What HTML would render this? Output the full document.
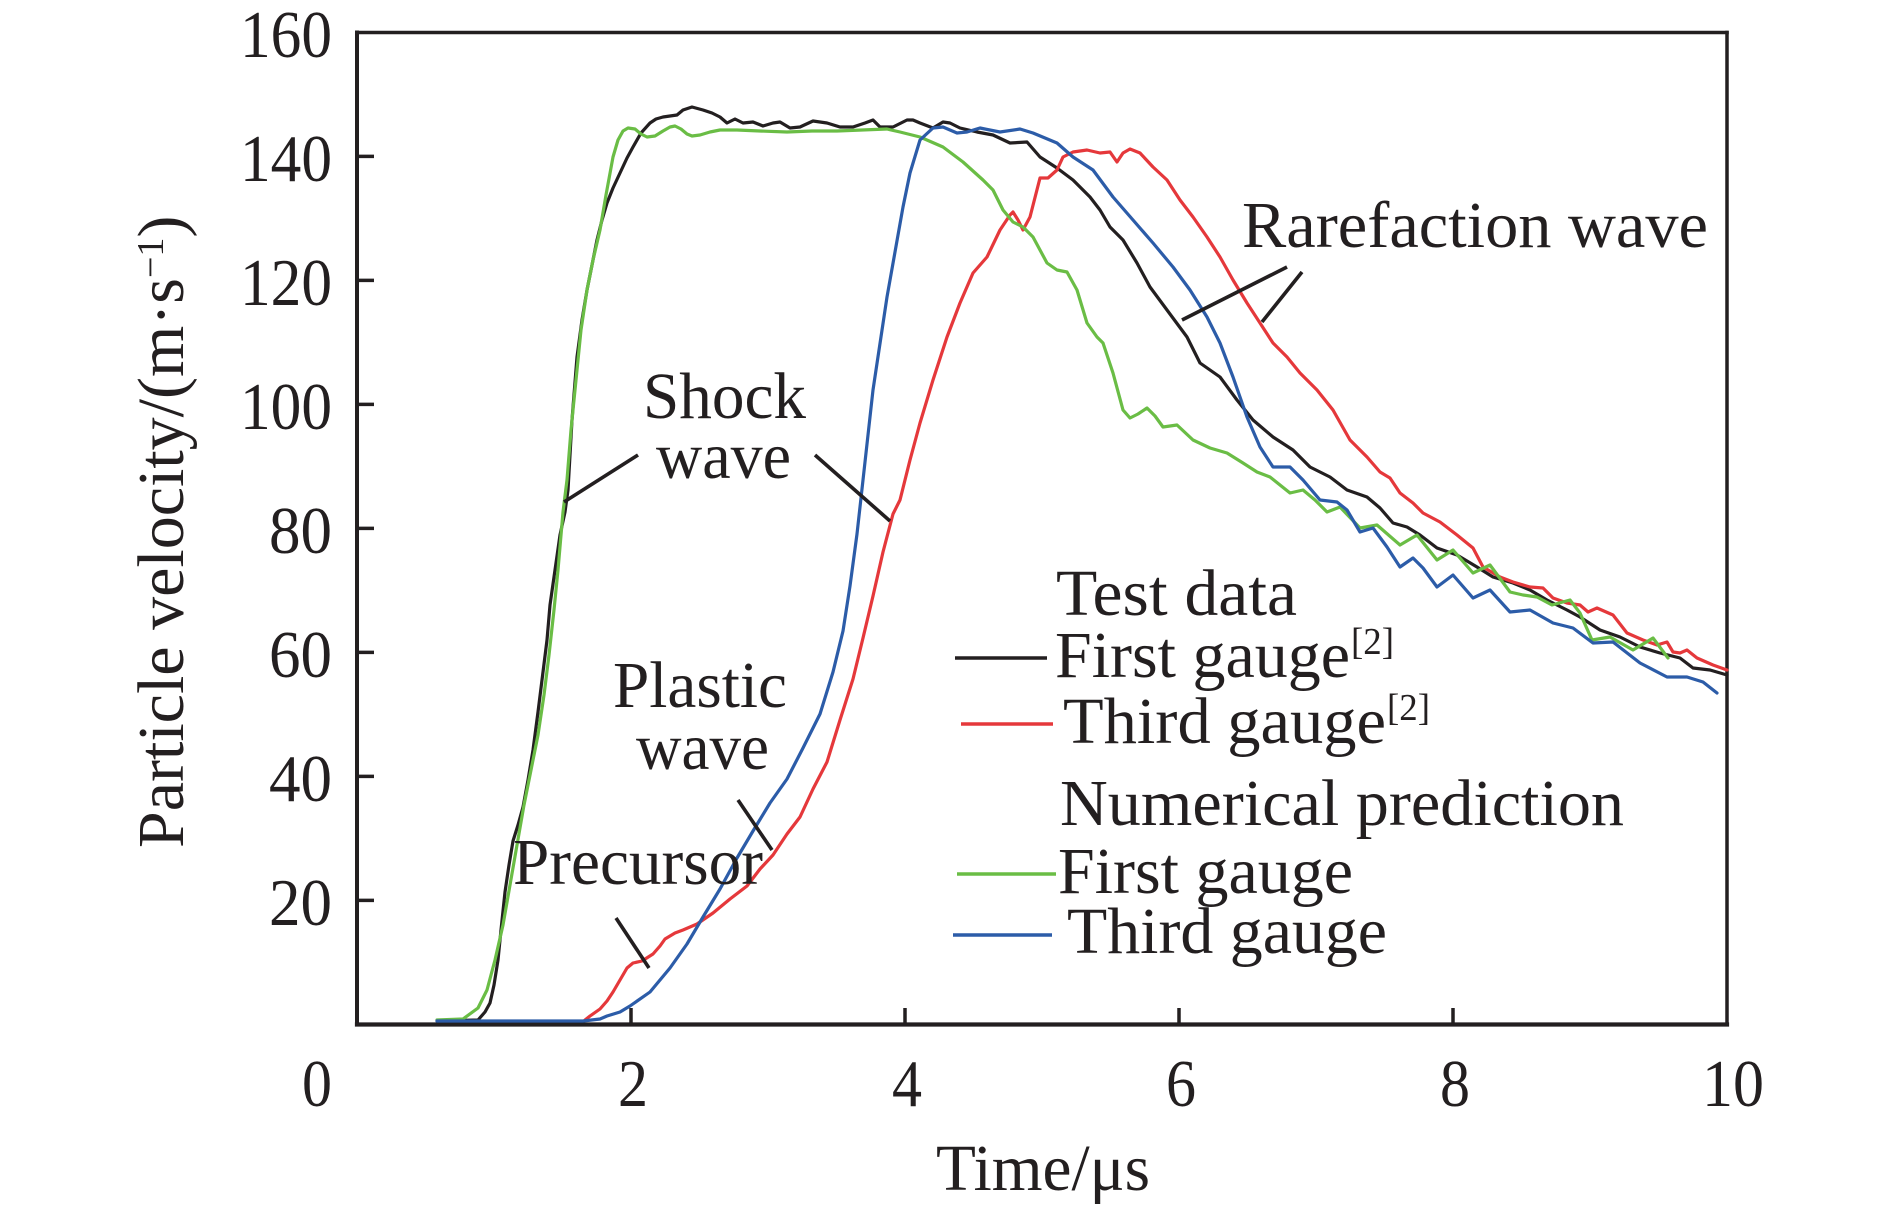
<!DOCTYPE html>
<html>
<head>
<meta charset="utf-8">
<style>
html,body{margin:0;padding:0;background:#ffffff;}
svg{display:block;}
text{font-family:"Liberation Serif","Times New Roman",serif;fill:#231f20;}
</style>
</head>
<body>
<svg width="1890" height="1211" viewBox="0 0 1890 1211" xmlns="http://www.w3.org/2000/svg">
<rect x="0" y="0" width="1890" height="1211" fill="#ffffff"/>

<!-- Axes frame -->
<g stroke="#231f20" fill="none" stroke-linecap="square">
  <line x1="357" y1="32.5" x2="1727" y2="32.5" stroke-width="3.5"/>
  <line x1="357" y1="32.5" x2="357" y2="1024.5" stroke-width="4"/>
  <line x1="1727" y1="32.5" x2="1727" y2="1024.5" stroke-width="3.5"/>
  <line x1="357" y1="1024.5" x2="1727" y2="1024.5" stroke-width="4.2"/>
</g>
<!-- y ticks -->
<g stroke="#231f20" stroke-width="3.5">
  <line x1="357" y1="156.4" x2="374" y2="156.4"/>
  <line x1="357" y1="280.4" x2="374" y2="280.4"/>
  <line x1="357" y1="404.4" x2="374" y2="404.4"/>
  <line x1="357" y1="528.4" x2="374" y2="528.4"/>
  <line x1="357" y1="652.4" x2="374" y2="652.4"/>
  <line x1="357" y1="776.4" x2="374" y2="776.4"/>
  <line x1="357" y1="900.4" x2="374" y2="900.4"/>
</g>
<!-- x ticks -->
<g stroke="#231f20" stroke-width="3.5">
  <line x1="631" y1="1024" x2="631" y2="1008"/>
  <line x1="905" y1="1024" x2="905" y2="1008"/>
  <line x1="1179" y1="1024" x2="1179" y2="1008"/>
  <line x1="1453" y1="1024" x2="1453" y2="1008"/>
</g>

<!-- y tick labels -->
<g font-size="67" text-anchor="end">
  <text x="332" y="57" textLength="92" lengthAdjust="spacingAndGlyphs">160</text>
  <text x="332" y="181" textLength="92" lengthAdjust="spacingAndGlyphs">140</text>
  <text x="332" y="305" textLength="92" lengthAdjust="spacingAndGlyphs">120</text>
  <text x="332" y="429" textLength="92" lengthAdjust="spacingAndGlyphs">100</text>
  <text x="332" y="553" textLength="63" lengthAdjust="spacingAndGlyphs">80</text>
  <text x="332" y="677" textLength="63" lengthAdjust="spacingAndGlyphs">60</text>
  <text x="332" y="801" textLength="63" lengthAdjust="spacingAndGlyphs">40</text>
  <text x="332" y="925" textLength="63" lengthAdjust="spacingAndGlyphs">20</text>
</g>
<!-- x tick labels -->
<g font-size="67" text-anchor="middle">
  <text x="317" y="1106" textLength="30" lengthAdjust="spacingAndGlyphs">0</text>
  <text x="633" y="1106" textLength="30" lengthAdjust="spacingAndGlyphs">2</text>
  <text x="907" y="1106" textLength="30" lengthAdjust="spacingAndGlyphs">4</text>
  <text x="1181" y="1106" textLength="30" lengthAdjust="spacingAndGlyphs">6</text>
  <text x="1455" y="1106" textLength="30" lengthAdjust="spacingAndGlyphs">8</text>
  <text x="1733" y="1106" textLength="62" lengthAdjust="spacingAndGlyphs">10</text>
</g>

<!-- axis titles -->
<text x="936" y="1190" font-size="66" textLength="214" lengthAdjust="spacingAndGlyphs">Time/μs</text>
<g transform="translate(183,848) rotate(-90)">
  <text x="0" y="0" font-size="66">Particle velocity/(m·s<tspan dy="-20" font-size="38">−1</tspan><tspan dy="20">)</tspan></text>
</g>

<!-- Curves -->
<g fill="none" stroke-width="3.2" stroke-linejoin="round" stroke-linecap="round">
<!-- Test data first gauge (black) -->
<polyline stroke="#231f20" points="437,1021 478,1020 485,1012 490,1003 494,985 498,960 501,930 505,892 509,865 513,841 518,825 523,807 528,780 533,750 538,712 543,672 547,640 550,605 555,570 560,535 565,512 568,490 572,420 577,357 582,320 587,290 592,265 597,240 602,220 607,203 613,188 620,173 627,158 633,147 641,133 650,123 656,119 663,117 670,116 677,115 683,110 692,107 703,110 712,113 720,117 727,123 735,119 743,123 753,122 763,126 773,123 780,122 790,128 800,127 813,121 827,123 840,127 853,127 865,123 873,120 880,127 893,127 907,120 913,120 920,123 933,128 943,122 950,123 960,128 977,132 993,135 1010,143 1027,142 1040,157 1057,168 1073,180 1090,197 1100,210 1110,227 1123,240 1137,263 1150,287 1167,310 1187,337 1200,363 1220,377 1237,400 1253,420 1273,437 1293,450 1310,467 1330,477 1347,490 1367,497 1380,508 1393,523 1407,527 1420,535 1437,548 1457,555 1477,567 1493,577 1513,583 1530,590 1547,600 1567,610 1580,617 1600,630 1620,637 1640,647 1660,653 1680,658 1693,668 1710,670 1727,675"/>
<!-- Test data third gauge (red) -->
<polyline stroke="#e5383b" points="585,1020 590,1016 600,1009 607,1001 613,992 620,980 627,968 633,963 642,961 653,954 660,946 665,939 675,933 683,930 697,924 713,913 730,899 747,886 760,869 773,855 787,834 800,817 813,789 827,762 840,720 853,679 863,638 873,596 883,552 893,514 900,500 910,460 920,423 933,380 947,337 960,303 973,273 987,257 1000,230 1010,215 1013,212 1018,220 1023,230 1030,217 1040,178 1048,178 1057,170 1063,157 1073,152 1087,150 1100,153 1110,152 1117,162 1123,153 1130,149 1140,153 1153,167 1167,180 1180,200 1193,217 1207,237 1220,257 1233,280 1247,303 1260,323 1273,343 1287,357 1300,373 1317,390 1333,410 1350,440 1367,457 1380,472 1390,478 1400,493 1413,503 1423,513 1440,522 1457,535 1473,548 1483,567 1500,577 1513,582 1530,587 1543,588 1553,598 1567,603 1580,605 1588,612 1597,608 1613,615 1627,633 1643,640 1657,645 1667,642 1673,652 1680,653 1687,650 1697,658 1713,665 1727,670"/>
<!-- Numerical first gauge (green) -->
<polyline stroke="#6abd45" points="437,1020 463,1019 478,1008 487,990 495,960 503,925 510,885 517,845 524,805 531,770 538,735 544,695 549,655 554,610 558,570 563,512 567,480 571,430 576,380 581,330 587,290 593,260 600,230 606,195 613,157 618,140 623,131 628,128 635,129 641,134 647,137 655,136 663,131 670,127 675,126 681,129 687,134 692,136 700,135 710,132 720,130 737,130 760,131 787,132 812,131 837,131 862,130 887,129 900,132 920,137 943,147 963,162 983,180 993,190 1003,210 1013,222 1023,227 1033,237 1047,263 1057,270 1067,272 1077,290 1087,323 1097,337 1103,343 1113,373 1123,410 1130,418 1138,414 1147,408 1155,416 1163,427 1170,426 1177,425 1193,440 1210,448 1227,453 1243,463 1257,472 1270,477 1280,485 1290,493 1303,490 1315,500 1327,512 1340,507 1360,528 1377,525 1400,545 1417,535 1437,560 1453,550 1473,573 1490,565 1510,592 1523,595 1537,597 1552,605 1570,600 1580,613 1592,640 1610,637 1633,650 1653,638 1668,658"/>
<!-- Numerical third gauge (blue) -->
<polyline stroke="#2c5ca8" points="437,1021 583,1021 600,1019 607,1016 620,1012 630,1006 650,992 670,968 687,944 703,917 720,889 737,858 753,831 770,803 787,779 803,748 820,714 833,672 843,631 850,586 857,534 860,507 873,390 887,297 903,207 910,173 920,140 933,128 943,127 957,133 967,132 980,128 1000,132 1020,129 1033,133 1057,143 1073,157 1093,170 1113,197 1133,220 1153,243 1173,267 1190,290 1207,317 1220,343 1233,377 1247,417 1260,447 1273,467 1290,467 1303,480 1320,500 1337,502 1347,510 1360,532 1373,528 1387,547 1400,567 1413,558 1423,568 1437,587 1453,575 1473,598 1490,590 1510,612 1530,610 1553,623 1573,628 1593,643 1613,642 1640,663 1667,677 1687,677 1703,682 1717,693"/>
</g>

<!-- Annotation pointer lines -->
<g stroke="#231f20" stroke-width="3.6" stroke-linecap="butt">
  <line x1="638" y1="455" x2="564" y2="502"/>
  <line x1="815" y1="455" x2="890" y2="521"/>
  <line x1="738" y1="800" x2="772" y2="850"/>
  <line x1="616" y1="918" x2="649" y2="968"/>
  <line x1="1287" y1="267" x2="1182" y2="320"/>
  <line x1="1302" y1="272" x2="1262" y2="322"/>
</g>

<!-- Annotation text -->
<g font-size="66">
  <text x="643" y="418" textLength="163" lengthAdjust="spacingAndGlyphs">Shock</text>
  <text x="656" y="478" textLength="135" lengthAdjust="spacingAndGlyphs">wave</text>
  <text x="613" y="707" textLength="174" lengthAdjust="spacingAndGlyphs">Plastic</text>
  <text x="636" y="769" textLength="133" lengthAdjust="spacingAndGlyphs">wave</text>
  <text x="513" y="884" textLength="250" lengthAdjust="spacingAndGlyphs">Precursor</text>
  <text x="1242" y="247" textLength="466" lengthAdjust="spacingAndGlyphs">Rarefaction wave</text>
</g>

<!-- Legend -->
<g stroke-width="3.6" stroke-linecap="butt">
  <line x1="955" y1="658" x2="1047" y2="658" stroke="#231f20"/>
  <line x1="961" y1="724" x2="1053" y2="724" stroke="#e5383b"/>
  <line x1="957" y1="874" x2="1056" y2="874" stroke="#6abd45"/>
  <line x1="953" y1="935" x2="1052" y2="935" stroke="#2c5ca8"/>
</g>
<g font-size="66">
  <text x="1056" y="615" textLength="241" lengthAdjust="spacingAndGlyphs">Test data</text>
  <text x="1055" y="677" textLength="295" lengthAdjust="spacingAndGlyphs">First gauge</text>
  <text x="1063" y="743" textLength="323" lengthAdjust="spacingAndGlyphs">Third gauge</text>
  <text x="1060" y="825" textLength="564" lengthAdjust="spacingAndGlyphs">Numerical prediction</text>
  <text x="1058" y="893" textLength="295" lengthAdjust="spacingAndGlyphs">First gauge</text>
  <text x="1067" y="953" textLength="320" lengthAdjust="spacingAndGlyphs">Third gauge</text>
</g>
<g font-size="38">
  <text x="1351" y="654" textLength="43" lengthAdjust="spacingAndGlyphs">[2]</text>
  <text x="1387" y="720" textLength="43" lengthAdjust="spacingAndGlyphs">[2]</text>
</g>
</svg>
</body>
</html>
